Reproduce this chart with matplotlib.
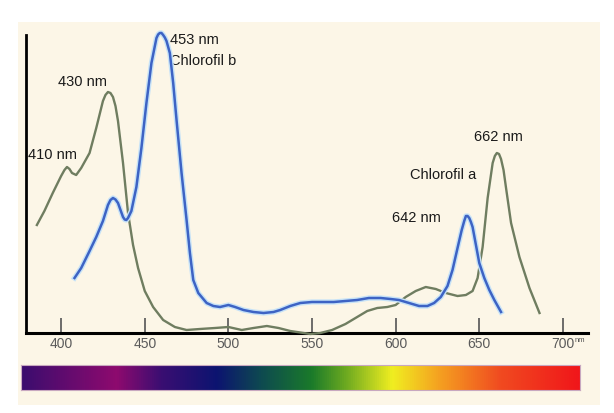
import numpy as np
import matplotlib.pyplot as plt
from matplotlib.colors import LinearSegmentedColormap
import matplotlib.patheffects as pe

plt.rcParams['font.family'] = ['Liberation Sans', 'DejaVu Sans']

# Chlorofil a (garis hijau)
wl_a = [385.5, 390, 395, 400, 402, 403.5, 405, 406.5, 409, 412, 417, 421, 425, 426.5,
        428, 429.5, 431, 432.5, 434, 437, 440, 443, 446, 450, 455, 461, 468, 475,
        483, 492, 500, 508, 515, 523, 530, 537, 545, 549, 555, 562, 570, 577, 583,
        589, 595, 600, 606, 612, 618, 624, 630, 637, 642, 646, 649, 652, 655, 658,
        659.3, 660.5, 661.8, 663, 664.5, 666, 669, 674, 680, 686]
abs_a = [108, 122, 140, 157, 163, 166, 164, 160, 158, 165, 180, 205, 232, 238,
         241, 240, 236, 227, 212, 170, 120, 88, 65, 42, 26, 13, 6, 3,
         4, 5, 6, 3, 5, 7, 5, 2, 0, -1, 0, 3, 9, 16, 22,
         25, 26, 28, 36, 42, 46, 44, 40, 37, 38, 42, 55, 86, 135, 170,
         177, 180, 179, 174, 163, 145, 110, 76, 45, 20]

# Chlorofil b (garis biru)
wl_b = [408, 412, 417, 421, 425, 428, 429.5, 431, 432.5, 434, 437, 438, 439, 440,
        442, 445, 448, 451, 454, 457, 458, 459, 460, 461, 462, 463, 465, 467, 469,
        472, 475, 477, 479, 482, 487, 491, 495, 500, 504, 509, 515, 521, 527, 531,
        537, 543, 550, 557, 563, 570, 577, 584, 591, 597, 602, 608, 614, 619, 623,
        627, 631, 634, 637, 639.5, 641, 642, 643, 644, 645, 646, 648, 650, 653,
        656, 659, 663]
abs_b = [55, 65, 82, 96, 112, 128, 133, 135, 133.5, 130, 116, 113.5, 113, 115,
         122, 146, 185, 230, 270, 295, 298.5, 300, 300, 298, 295.5, 292, 280, 250, 213,
         160, 113, 80, 53, 40, 30, 27, 26, 28, 26, 23, 21, 20, 21, 23,
         27, 30, 31, 31, 31, 32, 33, 35, 35, 34, 33, 30, 27, 27, 30,
         36, 47, 63, 85, 103, 112, 117, 117, 115, 111, 106, 88, 70, 55,
         43, 33, 21]

ticks = [400, 450, 500, 550, 600, 650, 700]

spectrum_pos = [0.0, 0.17, 0.25, 0.35, 0.43, 0.52, 0.58, 0.665, 0.75, 0.86, 1.0]
spectrum_col = ['#3b0d6e', '#8e0a6e', '#3a0e72', '#0c1470', '#0e4a50', '#1a7a2a',
                '#6aa820', '#f0ee20', '#f5a020', '#f04a20', '#f0161a']

fig = plt.figure(figsize=(6.14, 4.13), dpi=100)
fig.patch.set_facecolor('white')

# latar krem
bg = fig.add_axes([18 / 614, 1 - 405 / 413, 582 / 614, 383 / 413], zorder=-5)
bg.set_facecolor('#fcf6e7')
bg.set_xticks([])
bg.set_yticks([])
for s in bg.spines.values():
    s.set_visible(False)

ax = fig.add_axes([26 / 614, 1 - 333 / 413, 562 / 614, 298 / 413], zorder=1)
ax.set_facecolor('none')
ax.set_xlim(379, 715)
ax.set_ylim(0, 298)

halo = [pe.Stroke(linewidth=3.8, foreground='#c6e2f7'), pe.Normal()]
ax.plot(wl_a, abs_a, color='#6f7d60', lw=1.7, clip_on=False, zorder=3,
        solid_joinstyle='round')
ax.plot(wl_b, abs_b, color='#3d63c4', lw=1.8, clip_on=False, zorder=4,
        solid_joinstyle='round', path_effects=halo)

for s in ['top', 'right']:
    ax.spines[s].set_visible(False)
ax.spines['left'].set_linewidth(2)
ax.spines['bottom'].set_linewidth(2.2)
ax.set_yticks([])
ax.set_xticks(ticks)
ax.set_xticklabels([str(t) for t in ticks])
ax.tick_params(axis='x', direction='in', length=11, width=1.2, color='#555555',
               labelsize=10, labelcolor='#5a5a5a', pad=3)
ax.text(707, -4, 'nm', fontsize=5.5, color='#555555', va='top', ha='left',
        clip_on=False)

lbl = dict(fontsize=10.5, color='#1a1a1a', va='center', ha='left')
ax.text(465, 293, '453 nm', **lbl)
ax.text(465, 272, 'Chlorofil b', **lbl)
ax.text(398, 251, '430 nm', **lbl)
ax.text(380, 178, '410 nm', **lbl)
ax.text(647, 196, '662 nm', **lbl)
ax.text(608.5, 158, 'Chlorofil a', **lbl)
ax.text(598, 115, '642 nm', **lbl)

# spektrum warna
cmap = LinearSegmentedColormap.from_list('spec', list(zip(spectrum_pos, spectrum_col)))
cax = fig.add_axes([21 / 614, 1 - 390 / 413, 559 / 614, 25 / 413], zorder=1)
cax.imshow(np.linspace(0, 1, 512)[None, :], aspect='auto', cmap=cmap)
cax.set_xticks([])
cax.set_yticks([])
for s in cax.spines.values():
    s.set_edgecolor('#c8a8c0')
    s.set_linewidth(0.8)

fig.savefig('out.png', dpi=100)
